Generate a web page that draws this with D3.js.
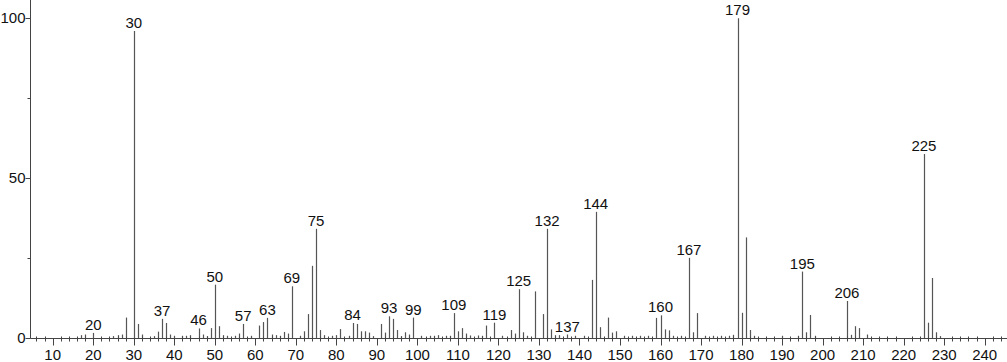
<!DOCTYPE html>
<html>
<head>
<meta charset="utf-8">
<script src="https://cdn.jsdelivr.net/npm/d3@7"></script>
<style>
  body { margin: 0; background: #fff; }
  svg text { font-family: "Liberation Sans", Arial, sans-serif; font-size: 15px; fill: #111; }
</style>
</head>
<body>
<div class="chart"></div>
<script>
// m/z values and relative intensities
var masses = [17, 18, 20, 25, 26, 27, 28, 30, 31, 32, 35, 36, 37, 38, 39,
  40, 42, 43, 44, 46, 47, 48, 49, 50, 51, 52, 53, 55, 56, 57,
  59, 61, 62, 63, 64, 65, 66, 67, 68, 69, 71, 72, 73, 74, 75, 76, 77,
  79, 80, 81, 83, 84, 85, 86, 87, 88, 89, 91, 92, 93, 94, 95, 96, 97, 98, 99,
  101, 103, 104, 105, 107, 108, 109, 110, 111, 112, 113, 115, 116, 117, 119,
  121, 123, 124, 125, 126, 127, 129, 131, 132, 133, 134, 135, 137, 139, 141,
  143, 144, 145, 147, 148, 149, 151, 153, 155, 157, 159, 160, 161, 162, 163,
  165, 167, 168, 169, 171, 173, 175, 177, 178, 179, 180, 181, 182, 183,
  190, 194, 195, 196, 197, 198, 206, 207, 208, 209, 211,
  225, 226, 227, 228, 229];
var intensities = [0.8, 1.0, 1.5, 0.5, 0.8, 1.0, 6.3, 96.0, 4.3, 1.0, 0.5, 1.9, 5.9, 4.6, 1.0,
  0.6, 0.6, 0.6, 0.8, 2.9, 1.0, 0.5, 3.0, 16.6, 3.6, 0.8, 0.6, 0.6, 1.3, 4.3,
  0.6, 3.8, 4.9, 6.2, 1.0, 0.8, 0.6, 1.8, 1.3, 16.1, 0.6, 2.0, 7.4, 22.5, 34.1, 2.4, 0.8,
  0.6, 0.8, 2.7, 0.6, 4.6, 4.3, 2.0, 2.0, 1.6, 0.5, 4.3, 1.6, 6.7, 5.9, 2.4, 0.5, 1.7, 1.0, 6.3,
  0.6, 0.6, 0.6, 0.8, 0.6, 0.6, 7.7, 2.0, 3.0, 1.3, 0.7, 0.7, 0.6, 3.8, 4.7,
  0.6, 2.4, 1.3, 15.2, 1.7, 0.6, 14.5, 7.4, 34.1, 2.6, 0.8, 0.8, 1.0, 0.6, 0.6,
  18.1, 39.4, 3.3, 6.3, 1.6, 2.0, 0.6, 0.6, 0.6, 0.6, 6.2, 7.0, 2.6, 2.3, 0.6,
  0.6, 25.0, 1.7, 7.7, 0.6, 0.6, 0.6, 0.6, 0.9, 100, 7.8, 31.4, 2.4, 0.6,
  0.6, 0.6, 20.7, 1.7, 7.1, 0.6, 11.5, 0.9, 3.6, 3.0, 1.0,
  57.5, 4.7, 18.7, 1.7, 0.5];
var labelled = [20, 30, 37, 46, 50, 57, 63, 69, 75, 84, 93, 99, 109, 119, 125,
  132, 137, 144, 160, 167, 179, 195, 206, 225];
var xTickLabels = d3.range(10, 241, 10);
var yTickLabels = [0, 50, 100];

var width = 1007, height = 362;
var svg = d3.select(".chart").append("svg")
  .attr("width", width)
  .attr("height", height);

var x = d3.scaleLinear().domain([10, 240]).range([52.7, 984.7]);
var y = d3.scaleLinear().domain([0, 100]).range([337.7, 18.3]);
var axisX = 30.5, baseY = Math.round(y(0)) + 0.5;

var peaks = masses.map(function(m, i) { return {m: m, v: intensities[i]}; });

//peaks
svg.selectAll(".peak")
  .data(peaks)
  .enter()
    .append("line")
      .attr("class", "peak")
      .attr("x1", function(d) { return Math.round(x(d.m)) + 0.5; })
      .attr("x2", function(d) { return Math.round(x(d.m)) + 0.5; })
      .attr("y1", baseY)
      .attr("y2", function(d) { return y(d.v); })
      .attr("stroke", "#555")
      .attr("stroke-width", 1.2);

//peak labels
svg.selectAll(".plabel")
  .data(peaks.filter(function(d) { return labelled.indexOf(d.m) >= 0; }))
  .enter()
    .append("text")
      .attr("class", "plabel")
      .attr("x", function(d) { return x(d.m); })
      .attr("y", function(d) { return y(d.v) - 3; })
      .attr("text-anchor", "middle")
      .text(function(d) { return d.m; });

//x axis
svg.append("line")
  .attr("x1", axisX).attr("x2", width)
  .attr("y1", baseY).attr("y2", baseY)
  .attr("stroke", "#444");
var minorX = d3.range(6, 245, 2).filter(function(m) { return m % 10 != 0; });
svg.selectAll(".xminor")
  .data(minorX)
  .enter()
    .append("line")
      .attr("x1", function(d) { return Math.round(x(d)) + 0.5; })
      .attr("x2", function(d) { return Math.round(x(d)) + 0.5; })
      .attr("y1", baseY - 2)
      .attr("y2", baseY + 3)
      .attr("stroke", "#444");
svg.selectAll(".xmajor")
  .data(xTickLabels)
  .enter()
    .append("line")
      .attr("x1", function(d) { return Math.round(x(d)) + 0.5; })
      .attr("x2", function(d) { return Math.round(x(d)) + 0.5; })
      .attr("y1", baseY)
      .attr("y2", baseY + 7)
      .attr("stroke", "#444");
svg.selectAll(".xlabel")
  .data(xTickLabels)
  .enter()
    .append("text")
      .attr("x", function(d) { return x(d); })
      .attr("y", 360)
      .attr("text-anchor", "middle")
      .text(function(d) { return d; });

//y axis
svg.append("line")
  .attr("x1", axisX).attr("x2", axisX)
  .attr("y1", 0).attr("y2", baseY)
  .attr("stroke", "#444");
svg.selectAll(".ymajor")
  .data(yTickLabels)
  .enter()
    .append("line")
      .attr("x1", axisX - 5).attr("x2", axisX)
      .attr("y1", function(d) { return Math.round(y(d)) + 0.5; })
      .attr("y2", function(d) { return Math.round(y(d)) + 0.5; })
      .attr("stroke", "#444");
svg.selectAll(".yminor")
  .data([25, 75])
  .enter()
    .append("line")
      .attr("x1", axisX - 3).attr("x2", axisX)
      .attr("y1", function(d) { return Math.round(y(d)) + 0.5; })
      .attr("y2", function(d) { return Math.round(y(d)) + 0.5; })
      .attr("stroke", "#444");
svg.selectAll(".ylabel")
  .data(yTickLabels)
  .enter()
    .append("text")
      .attr("x", axisX - 5)
      .attr("y", function(d) { return y(d) + 5; })
      .attr("text-anchor", "end")
      .text(function(d) { return d; });
</script>
</body>
</html>
